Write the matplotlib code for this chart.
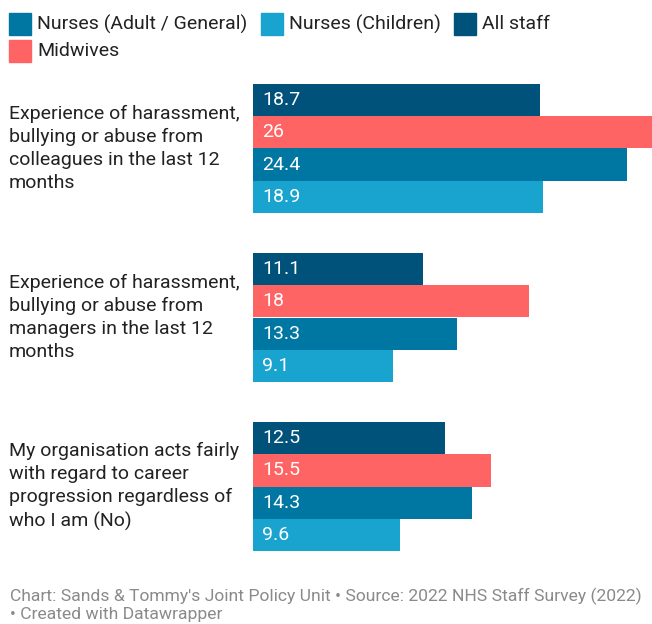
import matplotlib
matplotlib.use("Agg")
import matplotlib.pyplot as plt
from matplotlib.patches import Rectangle

plt.rcParams["font.family"] = ["Roboto", "DejaVu Sans"]

questions = [
    "Experience of harassment,\nbullying or abuse from\ncolleagues in the last 12\nmonths",
    "Experience of harassment,\nbullying or abuse from\nmanagers in the last 12\nmonths",
    "My organisation acts fairly\nwith regard to career\nprogression regardless of\nwho I am (No)",
]
series = ["All staff", "Midwives", "Nurses (Adult / General)", "Nurses (Children)"]
all_staff = [18.7, 11.1, 12.5]
midwives = [26, 18, 15.5]
nurses_adult = [24.4, 13.3, 14.3]
nurses_children = [18.9, 9.1, 9.6]
values = [all_staff, midwives, nurses_adult, nurses_children]

colors = {
    "All staff": "#01527a",
    "Midwives": "#ff6465",
    "Nurses (Adult / General)": "#0077a3",
    "Nurses (Children)": "#19a3cf",
}
legend_order = ["Nurses (Adult / General)", "Nurses (Children)", "All staff", "Midwives"]

W, H = 652, 624
fig = plt.figure(figsize=(W / 100, H / 100), dpi=100)

def fx(px):
    return px / W

def fy(py):
    return 1 - py / H

# bar area in pixel space
left, right, top, bottom = 253, 652, 84, 551
ax = fig.add_axes([fx(left), fy(bottom), fx(right - left), (bottom - top) / H])
group_step = 5.25
ax.set_xlim(0, 26)
ax.set_ylim(2 * group_step + 4, 0)
ax.axis("off")

for g, q in enumerate(questions):
    base = g * group_step
    for j, (name, vals) in enumerate(zip(series, values)):
        y = base + j + 0.5
        ax.barh(y, vals[g], height=1.0, color=colors[name], linewidth=0)
        ax.text(0.6, y, f"{vals[g]:g}", color="white", fontsize=14,
                va="center", ha="left")
    # question label centred on its group of bars
    ax.text(-15.9, base + 2.0, q, fontsize=14, color="#222222",
            va="center", ha="left", linespacing=1.35, clip_on=False)

# legend (two rows, manual)
legend_pos = [(9, 13), (261, 13), (454, 13), (9, 40)]
for name, (lx, ly) in zip(legend_order, legend_pos):
    fig.patches.append(Rectangle((fx(lx), fy(ly + 22)), fx(22), 22 / H,
                                 transform=fig.transFigure, color=colors[name]))
    fig.text(fx(lx + 28), fy(ly + 11), name, fontsize=14, color="#222222",
             va="center", ha="left")

fig.text(fx(10), fy(596), "Chart: Sands & Tommy's Joint Policy Unit \u2022 Source: 2022 NHS Staff Survey (2022)",
         fontsize=12.6, color="#8a8a8a", va="center", ha="left")
fig.text(fx(10), fy(614), "\u2022 Created with Datawrapper",
         fontsize=12.6, color="#8a8a8a", va="center", ha="left")

fig.savefig("out.png", dpi=100, facecolor="white")
